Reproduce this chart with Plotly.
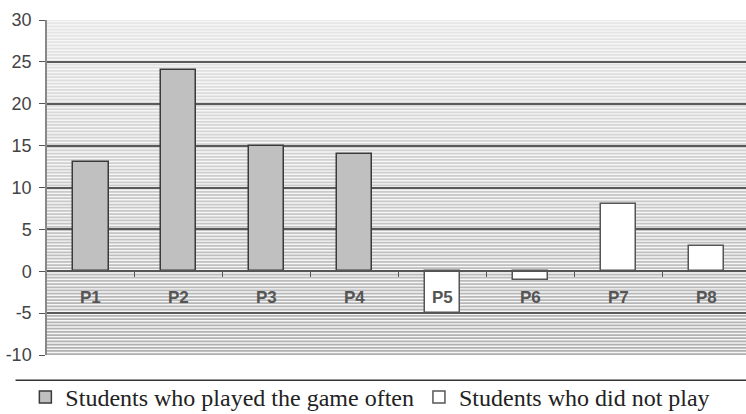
import plotly.graph_objects as go

# Data
categories = ["P1", "P2", "P3", "P4", "P5", "P6", "P7", "P8"]
played_often = [13, 24, 15, 14, None, None, None, None]
did_not_play = [None, None, None, None, -5, -1, 8, 3]
y_ticks = [-10, -5, 0, 5, 10, 15, 20, 25, 30]
y_tick_text = ["-10", "-5", "0", "5", "10", "15", "20", "25", "30"]
series_names = ["Students who played the game often", "Students who did not play"]

Y_MIN, Y_MAX = -10, 30
x_idx = list(range(len(categories)))

fig = go.Figure()
fig.add_trace(go.Bar(
    x=x_idx, y=played_often, name=series_names[0], width=0.4,
    marker=dict(color="#c0c0c0", line=dict(color="#3a3a3a", width=1.5)),
))
fig.add_trace(go.Bar(
    x=x_idx, y=did_not_play, name=series_names[1], width=0.4,
    marker=dict(color="#ffffff", line=dict(color="#555555", width=1.5)),
))

# Striped gradient background: thin bands, darker toward the bottom
shapes = []
step = 0.38
n = int((Y_MAX - Y_MIN) / step) + 1
for i in range(n):
    y0 = Y_MIN + i * step
    y1 = min(y0 + step * 0.55, Y_MAX)
    if y0 >= Y_MAX:
        break
    t = (y0 - Y_MIN) / (Y_MAX - Y_MIN)  # 0 bottom, 1 top
    g = int(175 + (232 - 175) * t)
    shapes.append(dict(
        type="rect", xref="paper", yref="y", x0=0, x1=1, y0=y0, y1=y1,
        fillcolor=f"rgb({g},{g},{g})", line=dict(width=0), layer="below",
    ))

# Separator line above the legend
shapes.append(dict(
    type="line", xref="paper", yref="paper", x0=-0.045, x1=1.0, y0=-0.075, y1=-0.075,
    line=dict(color="#333333", width=1.5),
))

# Category labels inside the plot, below the zero line
annotations = [
    dict(x=i, y=-3.1, xref="x", yref="y", text=f"<b>{c}</b>", showarrow=False,
         font=dict(family="Liberation Sans, Arial", size=17, color="#555555"))
    for i, c in enumerate(categories)
]

fig.update_layout(
    width=746, height=414,
    margin=dict(l=47, r=0, t=20, b=59, autoexpand=False),
    paper_bgcolor="white",
    plot_bgcolor="#f6f6f6",
    barmode="overlay",
    bargap=0,
    shapes=shapes,
    annotations=annotations,
    showlegend=True,
    legend=dict(
        orientation="h", x=0.034, xref="container", y=0.04, yref="container",
        xanchor="left", yanchor="middle",
        font=dict(family="Liberation Serif, Times New Roman", size=24, color="#222222"),
        bgcolor="rgba(0,0,0,0)", itemwidth=30, tracegroupgap=0,
    ),
    xaxis=dict(
        range=[-0.5, 7.45], showgrid=False, zeroline=False, showline=False,
        showticklabels=False, ticks="", fixedrange=True,
    ),
    xaxis2=dict(
        overlaying="x", anchor="free", position=0.25, side="bottom",
        range=[-0.5, 7.45], showgrid=False, zeroline=False,
        showline=True, linecolor="#555555", linewidth=1.5,
        tickmode="array", tickvals=[i + 0.5 for i in x_idx[:-1]],
        ticks="outside", ticklen=5, tickcolor="#555555", tickwidth=1,
        showticklabels=False,
    ),
    yaxis=dict(
        range=[Y_MIN, Y_MAX], tickmode="array", tickvals=y_ticks, ticktext=y_tick_text,
        showgrid=True, gridcolor="#5a5a5a", gridwidth=1.5,
        zeroline=False, showline=True, linecolor="#888888", linewidth=1.5,
        ticks="outside", ticklen=6, tickcolor="#555555", ticklabelstandoff=4,
        tickfont=dict(family="Liberation Sans, Arial", size=18, color="#444444"),
        fixedrange=True,
    ),
)

# Invisible trace to bring the zero-line axis into the figure
fig.add_trace(go.Scatter(x=[0], y=[0], xaxis="x2", mode="markers",
                         marker=dict(opacity=0), showlegend=False, hoverinfo="skip"))

fig.write_html("out.html")
